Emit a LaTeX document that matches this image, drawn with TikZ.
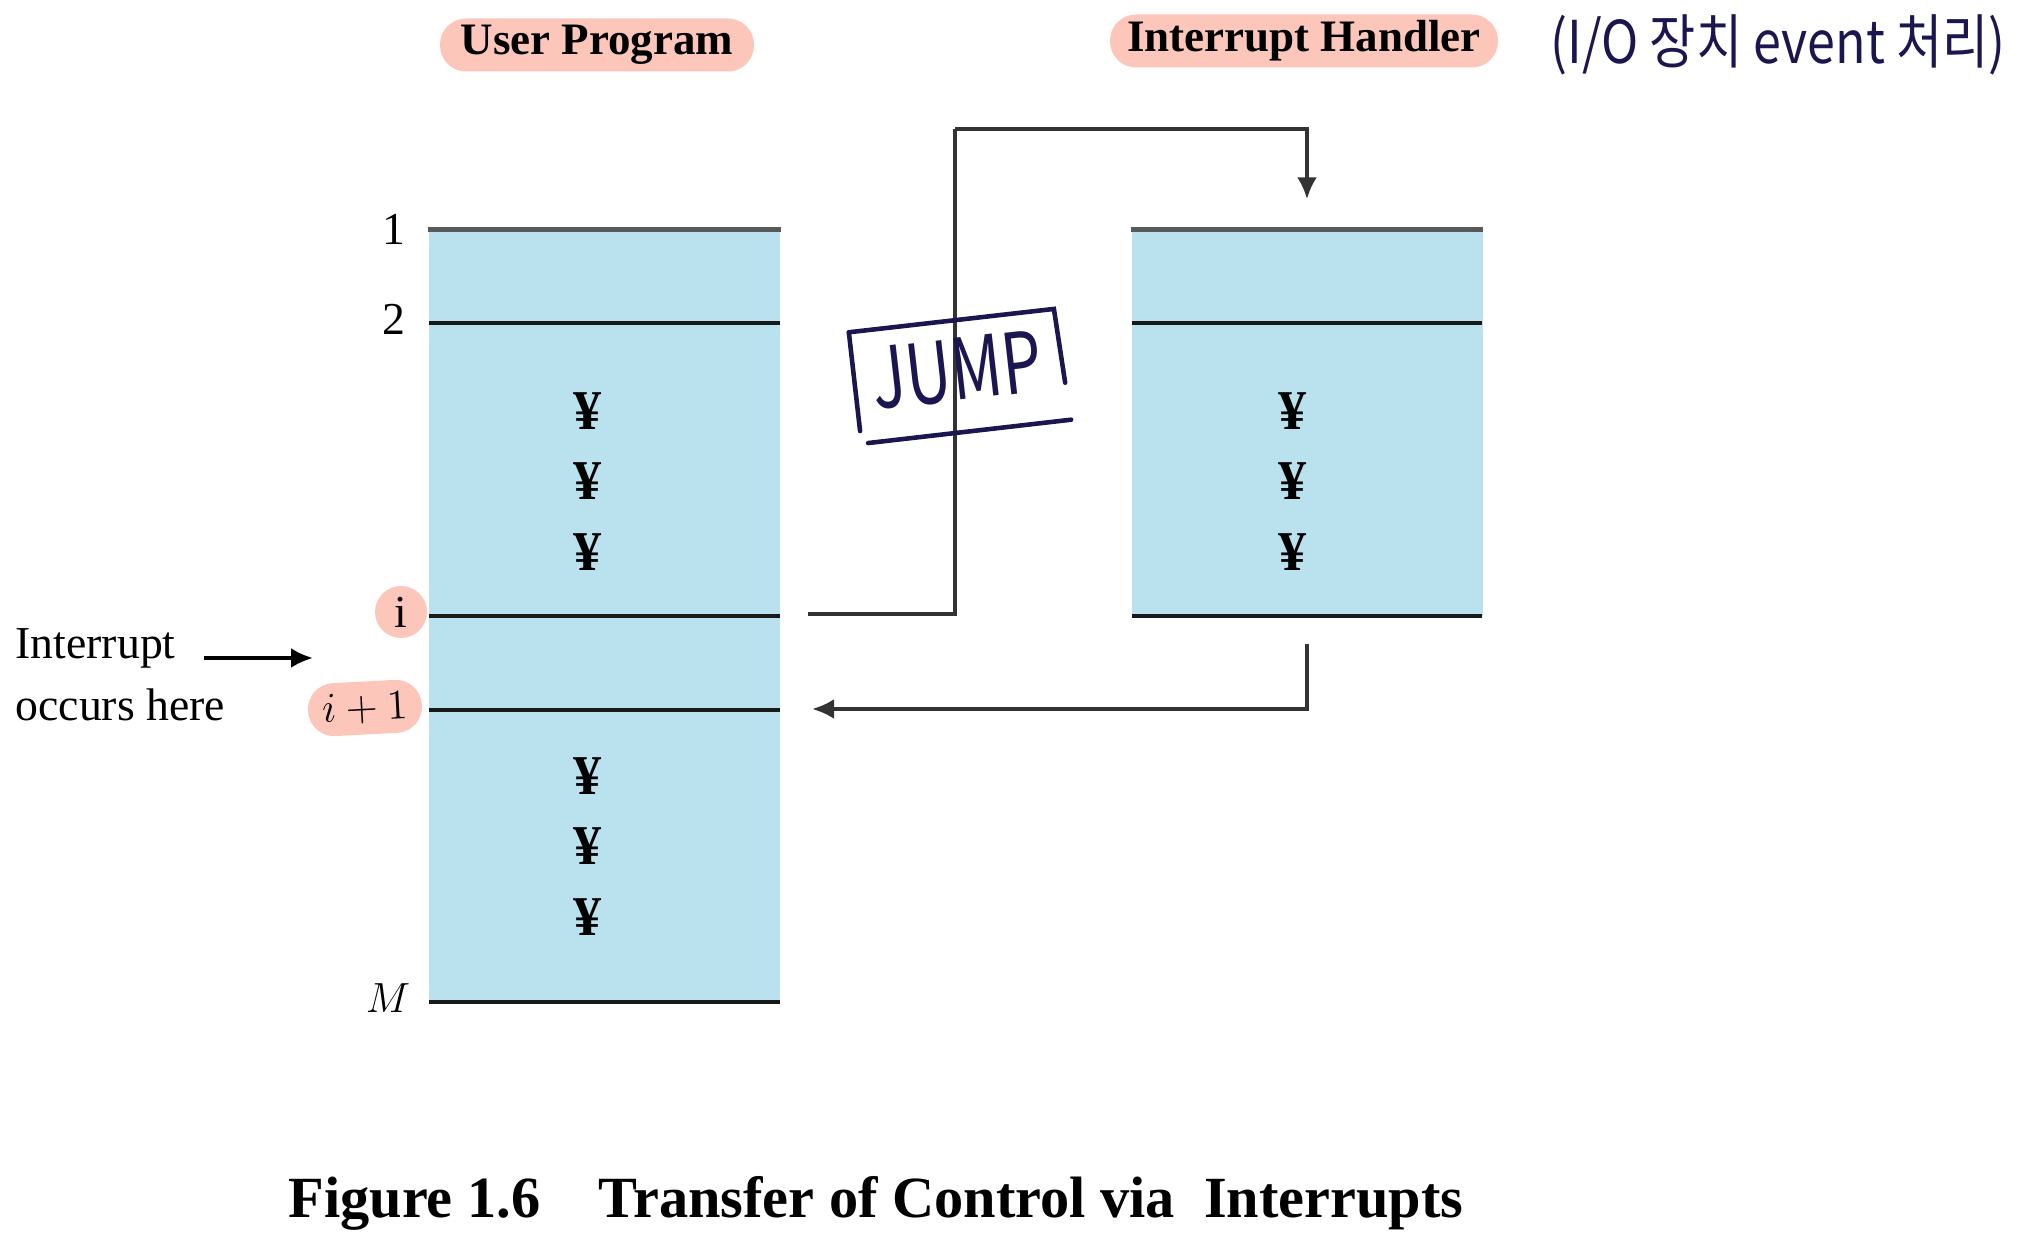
\documentclass[tikz,border=0pt]{standalone}
\usepackage{fontspec}
\setmainfont{Liberation Serif}
\newfontfamily\hangulhand{Noto Sans CJK KR}
\usepackage{tikz}
\usetikzlibrary{arrows.meta,positioning,calc}
\definecolor{blockblue}{HTML}{B9E2EE}
\definecolor{markpink}{HTML}{FCC6BB}
\definecolor{penink}{HTML}{1C1650}
\newlength{\TransferFigureUnit}
\setlength{\TransferFigureUnit}{1cm}
\newcommand{\TransferTitleFont}{\fontsize{12.8pt}{15pt}\selectfont\bfseries}
\newcommand{\TransferLabelFont}{\fontsize{13pt}{15pt}\selectfont}
\newcommand{\TransferDotFont}{\fontsize{16pt}{18pt}\selectfont\bfseries}
\newcommand{\TransferCaptionFont}{\fontsize{16.6pt}{20pt}\selectfont\bfseries}
\newcommand{\TransferPenFont}{\hangulhand\fontsize{14pt}{16pt}\selectfont}

\begin{document}
\begin{tikzpicture}[x=\TransferFigureUnit,y=-\TransferFigureUnit]
    \tikzset{
        program block/.style={fill=blockblue, draw=none, inner sep=0pt,
            minimum width=3.51cm},
        step line/.style={draw=black!90, line width=1pt},
        first line/.style={draw=black!65, line width=1.5pt},
        marker blob/.style={fill=markpink, rounded corners=0.26cm,
            inner sep=0pt, minimum height=0.53cm},
        control flow/.style={draw=black!80, line width=1.1pt,
            -{Latex[length=0.22cm,width=0.2cm]}},
        pen stroke/.style={draw=penink, line width=1.3pt, line cap=round}
    }
    \useasboundingbox (0,0) rectangle (20.28,12.48);

    % titles
    \node[marker blob, minimum width=3.14cm, font=\TransferTitleFont]
        (user-title) at (5.97,0.45) {User Program};
    \node[marker blob, minimum width=3.88cm, font=\TransferTitleFont]
        (handler-title) at (13.04,0.41) {Interrupt Handler};
    \node[font=\TransferPenFont, text=penink, anchor=west, inner sep=0pt]
        (handler-note) at (15.50,0.45)
        {\scalebox{1.02}[1.2]{(I/O 장치 event 처리)}};

    % the two programs
    \node[program block, minimum height=7.72cm] (user-program) at (6.045,6.16) {};
    \node[program block, minimum height=3.86cm] (handler-routine) at (13.07,4.23) {};

    \draw[first line] (user-program.north west) -- (user-program.north east);
    \draw[first line] (handler-routine.north west) -- (handler-routine.north east);
    \foreach \ypos in {3.23,6.16,7.10,10.02} {
        \draw[step line] (4.29,\ypos) -- (7.80,\ypos);
    }
    \foreach \ypos in {3.23,6.16} {
        \draw[step line] (11.32,\ypos) -- (14.82,\ypos);
    }
    \foreach \ypos in {4.11,4.81,5.52,7.76,8.46,9.17} {
        \node[font=\TransferDotFont] at (5.88,\ypos) {¥};
    }
    \foreach \ypos in {4.11,4.81,5.52} {
        \node[font=\TransferDotFont] at (12.93,\ypos) {¥};
    }

    % line numbers
    \node[font=\TransferLabelFont] (line-one) at (3.94,2.29) {1};
    \node[font=\TransferLabelFont] (line-two) at (3.94,3.19) {2};
    \node[fill=markpink, circle, minimum size=0.52cm, inner sep=0pt,
        font=\TransferLabelFont] (line-i) at (4.01,6.12) {i};
    \node[marker blob, minimum width=1.14cm, rotate=3,
        font=\TransferLabelFont] (line-inext) at (3.65,7.08) {$i+1$};
    \node[font=\TransferLabelFont] (line-M) at (3.88,9.98) {$M$};

    % interrupt point
    \node[font=\TransferLabelFont, anchor=west, inner sep=0pt]
        (interrupt-word) at (0.15,6.48) {Interrupt};
    \node[font=\TransferLabelFont, anchor=west, inner sep=0pt]
        (interrupt-where) at (0.15,7.05) {occurs here};
    \coordinate (interrupt-target) at (3.13,6.58);
    \draw[control flow, draw=black]
        ([xshift=0.28cm]interrupt-word.east |- interrupt-target) -- (interrupt-target);

    % transfer of control
    \coordinate (jump-start) at (8.08,6.14);
    \coordinate (return-end) at (8.12,7.09);
    \draw[control flow, -] (jump-start) -| (9.55,1.29);
    \draw[control flow] (9.55,1.29) -| ([yshift=0.30cm]handler-routine.north);
    \draw[control flow] ([yshift=-0.27cm]handler-routine.south) |- (return-end);

    % hand note
    \node[rotate=6.5, minimum width=2.05cm, minimum height=0.98cm,
        font=\hangulhand\fontsize{24pt}{26pt}\selectfont, text=penink]
        (jump-note) at (9.57,3.70) {\scalebox{0.75}[1]{JUMP}};
    \draw[pen stroke] (jump-note.north west) -- (jump-note.south west);
    \draw[pen stroke] (jump-note.north west) -- (jump-note.north east)
        -- ([yshift=0.25cm]jump-note.south east);
    \draw[pen stroke] ([xshift=0.08cm,yshift=-0.12cm]jump-note.south west)
        -- ([xshift=0.06cm,yshift=-0.12cm]jump-note.south east);

    % caption
    \node[font=\TransferCaptionFont] (figure-caption) at (8.76,12.03)
        {Figure 1.6\quad Transfer of Control via\ \ Interrupts};
\end{tikzpicture}
\end{document}
